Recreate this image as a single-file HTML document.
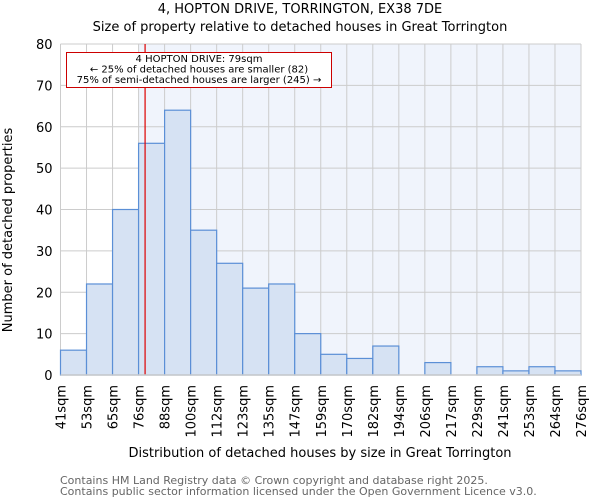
<!DOCTYPE html>
<html><head><meta charset="utf-8"><style>
body{margin:0;background:#fff;font-family:"DejaVu Sans","Liberation Sans",sans-serif}
text{font-family:"DejaVu Sans","Liberation Sans",sans-serif}
</style></head><body>
<svg id="chart" width="600" height="500" xmlns="http://www.w3.org/2000/svg">
<text x="300" y="13" text-anchor="middle" font-size="13">4, HOPTON DRIVE, TORRINGTON, EX38 7DE</text>
<text x="300" y="31" text-anchor="middle" font-size="13">Size of property relative to detached houses in Great Torrington</text>
<g id="plot"></g>
<text transform="translate(12,230) rotate(-90)" text-anchor="middle" font-size="13">Number of detached properties</text>
<text x="320" y="457" text-anchor="middle" font-size="13">Distribution of detached houses by size in Great Torrington</text>
<text x="60" y="484" font-size="11" fill="#666">Contains HM Land Registry data © Crown copyright and database right 2025.</text>
<text x="60" y="495" font-size="11" fill="#666">Contains public sector information licensed under the Open Government Licence v3.0.</text>
</svg>
<script>
const binLabels=["41sqm","53sqm","65sqm","76sqm","88sqm","100sqm","112sqm","123sqm","135sqm","147sqm","159sqm","170sqm","182sqm","194sqm","206sqm","217sqm","229sqm","241sqm","253sqm","264sqm","276sqm"];
const counts=[6,22,40,56,64,35,27,21,22,10,5,4,7,0,3,0,2,1,2,1];
const yTicks=[0,10,20,30,40,50,60,70,80];
const markerValue=79;
const markerBin=3, markerStart=76, markerEnd=88;
const NS="http://www.w3.org/2000/svg";
const L=60.5,R=581,T=44,B=375,yMax=80;
const bw=(R-L)/counts.length;
const xe=i=>L+i*bw;
const y=v=>B-(v/yMax)*(B-T);
const g=document.getElementById('plot');
function mk(t,a){const e=document.createElementNS(NS,t);for(const k in a)e.setAttribute(k,a[k]);g.appendChild(e);return e;}
let bg=mk('rect',{x:xe(markerBin),y:T,width:R-xe(markerBin),height:B-T,fill:'#f0f4fc'});


yTicks.forEach(v=>{
 const l=mk('line',{x1:L,x2:R,y1:y(v),y2:y(v),stroke:'#cccccc','stroke-width':1});
 
 
 const t=mk('text',{x:L-8,y:y(v)+5,'text-anchor':'end','font-size':13});
 t.textContent=v;
 
 
});
binLabels.forEach((s,i)=>{
 const l=mk('line',{x1:xe(i),x2:xe(i),y1:T,y2:B,stroke:'#cccccc','stroke-width':1});
 
 
 const t=mk('text',{transform:`translate(${xe(i)+5},${B+10}) rotate(-90)`,'text-anchor':'end','font-size':13});
 t.textContent=s;
 
 
});
counts.forEach((c,i)=>{
 if(c<=0)return;
 const r=mk('rect',{x:xe(i),y:y(c),width:bw,height:B-y(c),fill:'#d6e2f3',stroke:'#5b8fd6','stroke-width':1.2});
 
 
});
const mx=xe(markerBin)+(markerValue-markerStart)/(markerEnd-markerStart)*bw;
const ml=mk('line',{x1:mx,x2:mx,y1:T,y2:B,stroke:'#dd0000','stroke-width':1.2});


const ax=mk('line',{x1:L,x2:R,y1:B,y2:B,stroke:'#cccccc','stroke-width':1.5});


const box=mk('rect',{x:66.5,y:52.5,width:265,height:35,fill:'#fff',stroke:'#cc0000','stroke-width':1});


["4 HOPTON DRIVE: 79sqm","← 25% of detached houses are smaller (82)","75% of semi-detached houses are larger (245) →"].forEach((s,i)=>{
 const t=mk('text',{x:199,y:62+i*10.5,'text-anchor':'middle','font-size':10});
 t.textContent=s;
 
 
});
</script>
</body></html>
